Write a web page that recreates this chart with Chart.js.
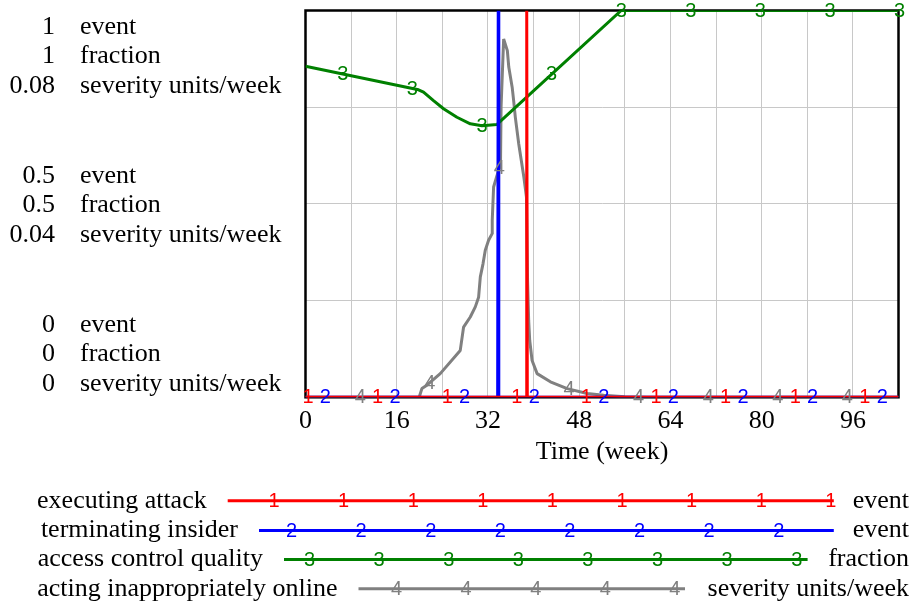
<!DOCTYPE html>
<html><head><meta charset="utf-8">
<script src="https://cdn.jsdelivr.net/npm/chart.js@4.4.1/dist/chart.umd.min.js"></script>
<style>html,body{margin:0;padding:0;background:#fff;overflow:hidden}#wrap{width:912px;height:605px;position:relative}</style>
</head><body><div id="wrap"><canvas id="c" width="912" height="605"></canvas></div>
<script>
// ---- data ----
const seriesNames = ['executing attack', 'terminating insider', 'access control quality', 'acting inappropriately online'];
const seriesUnits = ['event', 'event', 'fraction', 'severity units/week'];
const seriesDigits = ['1', '2', '3', '4'];
const seriesColors = ['#ff0000', '#0000ff', '#008000', '#808080'];

const weeksAttack = [0, 38.7, 38.8, 38.9, 104];
const executingAttack = [0, 0, 1, 0, 0];

const weeksTerminate = [0, 33.7, 33.8, 33.9, 104];
const terminatingInsider = [0, 0, 1, 0, 0];

const weeksQuality = [0, 19.82, 20.7, 22.45, 24.21, 26.56, 28.9, 30.95, 33.59, 33.82, 55.37, 104];
const accessControlQuality = [0.856, 0.795, 0.789, 0.767, 0.746, 0.724, 0.707, 0.702, 0.705, 0.709, 1.0, 1.0];

const weeksActing = [0, 19.94, 20.41, 21.29, 23.63, 27.14, 27.72, 28.9, 29.78, 30.36, 30.66, 31.13, 31.53, 32.11, 32.71, 32.75, 32.99, 33.59, 34.2, 34.3, 34.75, 35.4, 35.65, 36.25, 36.5, 36.8, 37.4, 38.3, 38.75, 38.95, 39.14, 39.32, 39.74, 40.62, 42.95, 45.89, 49.4, 52.3, 56, 60, 104];
const actingInappropriately = [0, 0, 0.0018, 0.0025, 0.0049, 0.0097, 0.0145, 0.0166, 0.0187, 0.0207, 0.0249, 0.0276, 0.0304, 0.0325, 0.0338, 0.0366, 0.0435, 0.0459, 0.0480, 0.0600, 0.0741, 0.0717, 0.0683, 0.0641, 0.0614, 0.0579, 0.0524, 0.0455, 0.0414, 0.0240, 0.0159, 0.0118, 0.0076, 0.0049, 0.0032, 0.0018, 0.00077, 0.0004, 0.0001, 0, 0];

const yTickValues = [0, 0.5, 1];
const eventTickLabels = ['0', '0.5', '1'];
const fractionTickLabels = ['0', '0.5', '1'];
const severityTickLabels = ['0', '0.04', '0.08'];
const axisUnits = ['event', 'fraction', 'severity units/week'];
const xAxisTitle = 'Time (week)';

// ---- styling ----
const SERIF = 'Liberation Serif, "Times New Roman", serif';
const SANS = 'Liberation Sans, Arial, sans-serif';
const TEXT_SIZE = 26;
const MARK_FONT = '20px ' + SANS;
const MARK_SPACING_WEEKS = 12.206;
const MARK_START_WEEKS = 0.44;

const toPoints = (xs, ys) => xs.map((x, i) => ({x: x, y: ys[i]}));

function interp(xs, ys, t) {
  if (t <= xs[0]) return ys[0];
  for (let i = 1; i < xs.length; i++) {
    if (t <= xs[i]) {
      const f = (t - xs[i - 1]) / (xs[i] - xs[i - 1]);
      return ys[i - 1] + f * (ys[i] - ys[i - 1]);
    }
  }
  return ys[ys.length - 1];
}

const seriesX = [weeksAttack, weeksTerminate, weeksQuality, weeksActing];
const seriesY = [executingAttack, terminatingInsider, accessControlQuality, actingInappropriately];
const seriesAxis = ['y', 'y', 'y', 'y2'];

const framePlugin = {
  id: 'frame',
  beforeDatasetsDraw(chart) {
    const a = chart.chartArea, ctx = chart.ctx;
    ctx.save();
    ctx.strokeStyle = '#000';
    ctx.lineWidth = 2.5;
    ctx.strokeRect(a.left, a.top, a.right - a.left, a.bottom - a.top);
    ctx.restore();
  }
};

const markerPlugin = {
  id: 'markers',
  afterDatasetsDraw(chart) {
    const ctx = chart.ctx, xs = chart.scales.x;
    ctx.save();
    ctx.font = MARK_FONT;
    ctx.textAlign = 'center';
    ctx.textBaseline = 'middle';
    for (let k = 0; k < 4; k++) {
      const ys = chart.scales[seriesAxis[k]];
      ctx.fillStyle = seriesColors[k];
      for (let t = MARK_START_WEEKS + k * MARK_SPACING_WEEKS / 4; t <= xs.max + 0.3; t += MARK_SPACING_WEEKS) {
        const v = interp(seriesX[k], seriesY[k], t);
        ctx.fillText(seriesDigits[k], xs.getPixelForValue(t), ys.getPixelForValue(v) + 0.5);
      }
    }
    ctx.restore();
  }
};

const leftLabelPlugin = {
  id: 'leftLabels',
  afterDraw(chart) {
    const ctx = chart.ctx, a = chart.chartArea, ys = chart.scales.y;
    const lh = 29.5, H = lh * 3;
    ctx.save();
    ctx.font = TEXT_SIZE + 'px ' + SERIF;
    ctx.fillStyle = '#000';
    ctx.textBaseline = 'middle';
    yTickValues.forEach((v, i) => {
      const py = ys.getPixelForValue(v);
      let top = py - H / 2;
      if (top < a.top) top = a.top;
      if (top + H > a.bottom) top = a.bottom - H;
      const nums = [eventTickLabels[i], fractionTickLabels[i], severityTickLabels[i]];
      for (let j = 0; j < 3; j++) {
        const cy = top + lh * (j + 0.5) + 1.5;
        ctx.textAlign = 'right';
        ctx.fillText(nums[j], 55, cy);
        ctx.textAlign = 'left';
        ctx.fillText(axisUnits[j], 80, cy);
      }
    });
    ctx.restore();
  }
};

const legendRows = [
  {y: 500.7, x0: 227.7, x1: 833.8, m0: 274},
  {y: 530.5, x0: 259, x1: 833.8, m0: 291.5},
  {y: 559.5, x0: 284, x1: 807.6, m0: 309.5},
  {y: 588.7, x0: 358.5, x1: 685, m0: 396.5}
];
const legendPlugin = {
  id: 'vlegend',
  afterDraw(chart) {
    const ctx = chart.ctx;
    ctx.save();
    legendRows.forEach((r, k) => {
      ctx.strokeStyle = seriesColors[k];
      ctx.lineWidth = 3;
      ctx.beginPath();
      ctx.moveTo(r.x0, r.y);
      ctx.lineTo(r.x1, r.y);
      ctx.stroke();
      ctx.font = MARK_FONT;
      ctx.fillStyle = seriesColors[k];
      ctx.textAlign = 'center';
      ctx.textBaseline = 'middle';
      for (let x = r.m0; x <= r.x1 + 2; x += 69.6) ctx.fillText(seriesDigits[k], x, r.y + 0.5);
      ctx.font = TEXT_SIZE + 'px ' + SERIF;
      ctx.fillStyle = '#000';
      ctx.textAlign = 'right';
      ctx.fillText(seriesNames[k], r.x0 - 21, r.y);
      ctx.textAlign = 'right';
      ctx.fillText(seriesUnits[k], 909, r.y);
    });
    ctx.restore();
  }
};

const datasets = seriesNames.map((name, k) => ({
  label: name,
  data: toPoints(seriesX[k], seriesY[k]),
  yAxisID: seriesAxis[k],
  borderColor: seriesColors[k],
  backgroundColor: seriesColors[k],
  borderWidth: 3,
  pointRadius: 0,
  tension: 0,
  fill: false,
  borderJoinStyle: 'bevel'
}));

new Chart(document.getElementById('c'), {
  type: 'line',
  data: {datasets: datasets},
  options: {
    responsive: false,
    animation: false,
    events: [],
    layout: {padding: {top: 10.5, right: 13.5, bottom: 137.7, left: 0}},
    plugins: {legend: {display: false}, tooltip: {enabled: false}},
    scales: {
      x: {
        type: 'linear', min: 0, max: 104,
        ticks: {
          stepSize: 8, autoSkip: false, maxRotation: 0, padding: 8, color: '#000',
          font: {family: SERIF, size: TEXT_SIZE},
          callback: (v) => (v % 16 === 0 ? String(v) : '')
        },
        grid: {color: '#c8c8c8', lineWidth: 1, drawTicks: false},
        border: {display: false},
        title: {display: true, text: xAxisTitle, color: '#000', font: {family: SERIF, size: TEXT_SIZE}, padding: {top: 0, bottom: 0}},
        afterFit(s) { s.height = 70; }
      },
      y: {
        type: 'linear', min: 0, max: 1,
        ticks: {stepSize: 0.25, display: false},
        grid: {color: '#c8c8c8', lineWidth: 1, drawTicks: false},
        border: {display: false},
        afterFit(s) { s.width = 305.5; }
      },
      y2: {type: 'linear', min: 0, max: 0.08, display: false}
    }
  },
  plugins: [framePlugin, markerPlugin, leftLabelPlugin, legendPlugin]
});
</script>
</body></html>
